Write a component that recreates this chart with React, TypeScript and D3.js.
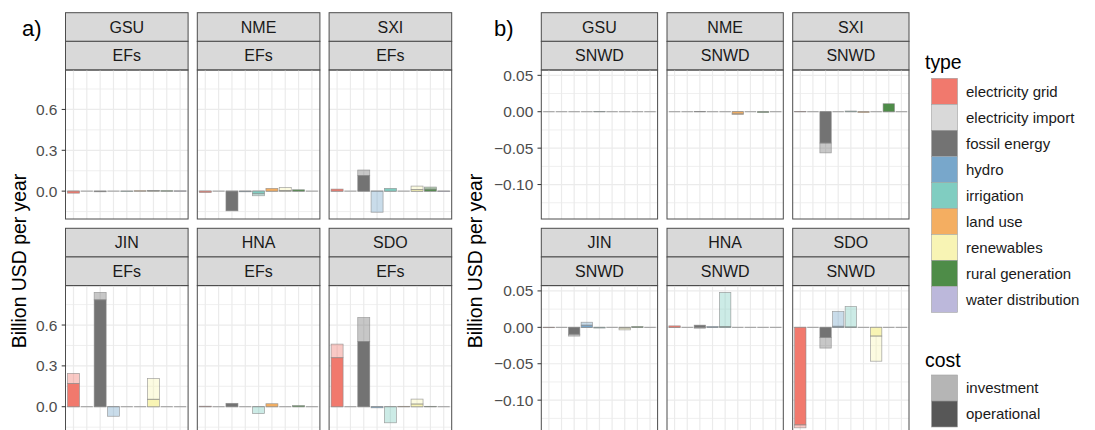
import React, { useEffect, useRef } from 'react';
import * as d3 from 'd3';

// categories and colours
const TYPES = [
  'electricity grid',
  'electricity import',
  'fossil energy',
  'hydro',
  'irrigation',
  'land use',
  'renewables',
  'rural generation',
  'water distribution',
];
const TYPE_COLORS = ['#F1796D', '#D9D9D9', '#737373', '#78A7CB', '#80CDC1', '#F4AE61', '#F8F4B4', '#4E8C48', '#BCB8DB'];
const COSTS = ['investment', 'operational'];
const COST_COLORS = ['#B5B5B5', '#575757'];
const REGIONS = ['GSU', 'NME', 'SXI', 'JIN', 'HNA', 'SDO'];

const EFS_TICKS = [0, 0.3, 0.6];
const SNWD_TICKS = [-0.1, -0.05, 0, 0.05];

// a) EFs, values in billion USD per year (one number per type)
const efsOperational: Record<string, number[]> = {
  GSU: [-0.015, 0, -0.005, 0, -0.002, 0.003, 0.003, 0.003, 0.002],
  NME: [-0.01, 0, -0.145, -0.005, -0.02, 0.02, 0.005, 0.01, 0],
  SXI: [0.015, 0, 0.115, 0, 0.02, 0, 0.012, 0.015, -0.003],
  JIN: [0.17, 0, 0.785, 0, 0, 0, 0.055, 0, 0],
  HNA: [0.004, 0, 0.025, 0, 0, 0.022, 0, 0.008, 0],
  SDO: [0.36, 0, 0.48, -0.008, 0, 0.003, 0.02, 0.003, 0],
};
const efsInvestment: Record<string, number[]> = {
  GSU: [0, 0, 0, 0, 0, 0, 0.001, 0, 0],
  NME: [0, 0, 0, 0, -0.014, 0, 0.022, 0, 0],
  SXI: [0, 0, 0.04, -0.155, 0, 0, 0.025, 0.015, 0],
  JIN: [0.075, 0, 0.055, -0.07, 0, 0, 0.152, 0, 0],
  HNA: [0, 0, 0, 0, -0.05, 0, 0, 0, 0],
  SDO: [0.1, 0, 0.175, 0, -0.118, 0, 0.036, 0, 0],
};

// b) SNWD
const snwdOperational: Record<string, number[]> = {
  GSU: [0, 0, 0, 0, 0.0005, 0, 0, 0, 0],
  NME: [0, 0, 0.0005, 0, 0, -0.003, 0, -0.001, 0],
  SXI: [0.0005, 0, -0.043, 0, 0.001, -0.001, 0, 0.011, 0],
  JIN: [-0.0005, 0, -0.0095, 0.003, -0.001, 0, -0.001, 0.001, 0],
  HNA: [0.002, 0, 0.003, 0.001, 0.001, 0, 0, 0, 0],
  SDO: [-0.134, 0, -0.014, 0.0015, 0.0005, 0, -0.012, 0, 0],
};
const snwdInvestment: Record<string, number[]> = {
  GSU: [0, 0, 0, 0, 0, 0, 0, 0, 0],
  NME: [0, 0, 0, 0, 0, -0.001, 0, 0, 0],
  SXI: [0, 0, -0.0135, 0, 0, 0, 0, 0, 0],
  JIN: [0, 0, -0.0025, 0.004, 0, 0, -0.0025, 0, 0],
  HNA: [0, 0, -0.0012, 0, 0.047, 0, 0, 0, 0],
  SDO: [-0.004, 0, -0.0145, 0.0205, 0.028, 0, -0.0345, 0, 0],
};

const FONT = '"Liberation Sans", Arial, sans-serif';

function App() {
  const ref = useRef<SVGSVGElement>(null);

  useEffect(() => {
    const svg = d3.select(ref.current);
    svg.selectAll('*').remove();

    const stripTop = [12.7, 228.3];
    const stripH = 28.65;
    const plotH = 149;

    const color = d3.scaleOrdinal<string, string>().domain(TYPES).range(TYPE_COLORS);

    const drawBlock = (opts: {
      label: string;
      facet: string;
      x0: number;
      w: number;
      gap: number;
      op: Record<string, number[]>;
      inv: Record<string, number[]>;
      ticks: number[];
      fmt: (v: number) => string;
      titleX: number;
      labelX: number;
    }) => {
      // stacked ends -> y domain with 5% expansion like ggplot
      const ends: number[] = [];
      REGIONS.forEach((r) => {
        opts.op[r].forEach((o, i) => {
          const v = opts.inv[r][i];
          ends.push(o, v * o >= 0 ? o + v : v);
        });
      });
      const lo = d3.min(ends)!;
      const hi = d3.max(ends)!;
      const pad = (hi - lo) * 0.05;

      const minor: number[] = [];
      const step = opts.ticks[1] - opts.ticks[0];
      for (let t = opts.ticks[0] - step / 2; t < hi + pad; t += step) {
        if (t > lo - pad) minor.push(t);
      }

      // panel label a) / b)
      svg.append('text')
        .attr('x', opts.labelX).attr('y', 36)
        .attr('font-family', FONT).attr('font-size', 22)
        .text(opts.label);

      // y axis title
      svg.append('text')
        .attr('transform', `translate(${opts.titleX},261) rotate(-90)`)
        .attr('text-anchor', 'middle')
        .attr('font-family', FONT).attr('font-size', 19.4)
        .text('Billion USD per year');

      REGIONS.forEach((region, idx) => {
        const row = Math.floor(idx / 3);
        const col = idx % 3;
        const left = opts.x0 + col * (opts.w + opts.gap);
        const top = stripTop[row] + 2 * stripH;

        const x = d3.scaleBand<string>().domain(TYPES)
          .range([left, left + opts.w]).paddingInner(0.1).paddingOuter(0.15);
        const y = d3.scaleLinear().domain([lo - pad, hi + pad]).range([top + plotH, top]);

        const g = svg.append('g');

        // strips
        [region, opts.facet].forEach((s, k) => {
          const sy = stripTop[row] + k * stripH;
          g.append('rect')
            .attr('x', left).attr('y', sy).attr('width', opts.w).attr('height', stripH)
            .attr('fill', '#D9D9D9').attr('stroke', '#4d4d4d').attr('stroke-width', 1);
          g.append('text')
            .attr('x', left + opts.w / 2).attr('y', sy + stripH / 2)
            .attr('dy', '0.36em').attr('text-anchor', 'middle')
            .attr('font-family', FONT).attr('font-size', 16).attr('fill', '#1A1A1A')
            .text(s);
        });

        // background grid
        const grid = g.append('g');
        grid.selectAll('.minor').data(minor).enter().append('line')
          .attr('x1', left).attr('x2', left + opts.w)
          .attr('y1', (d) => y(d)).attr('y2', (d) => y(d))
          .attr('stroke', '#EBEBEB').attr('stroke-width', 0.8);
        grid.selectAll('.major').data(opts.ticks).enter().append('line')
          .attr('x1', left).attr('x2', left + opts.w)
          .attr('y1', (d) => y(d)).attr('y2', (d) => y(d))
          .attr('stroke', '#EBEBEB').attr('stroke-width', 1.2);
        grid.selectAll('.vert').data(TYPES).enter().append('line')
          .attr('x1', (d) => x(d)! + x.bandwidth() / 2).attr('x2', (d) => x(d)! + x.bandwidth() / 2)
          .attr('y1', top).attr('y2', top + plotH)
          .attr('stroke', '#EBEBEB').attr('stroke-width', 1.2);

        // zero-height outlines of every bar
        g.selectAll('.zero').data(TYPES).enter().append('line')
          .attr('x1', (d) => x(d)!).attr('x2', (d) => x(d)! + x.bandwidth())
          .attr('y1', y(0)).attr('y2', y(0))
          .attr('stroke', '#9a9a9a').attr('stroke-width', 1);

        // stacked bars: operational next to zero, investment outside
        const segs: { type: string; y0: number; y1: number; cost: string }[] = [];
        TYPES.forEach((t, i) => {
          const o = opts.op[region][i];
          const v = opts.inv[region][i];
          if (o !== 0) segs.push({ type: t, y0: 0, y1: o, cost: 'operational' });
          if (v !== 0) {
            const base = v * o >= 0 ? o : 0;
            segs.push({ type: t, y0: base, y1: base + v, cost: 'investment' });
          }
        });
        g.selectAll('.bar').data(segs).enter().append('rect')
          .attr('x', (d) => x(d.type)!)
          .attr('width', x.bandwidth())
          .attr('y', (d) => Math.min(y(d.y0), y(d.y1)))
          .attr('height', (d) => Math.abs(y(d.y0) - y(d.y1)))
          .attr('fill', (d) => color(d.type))
          .attr('fill-opacity', (d) => (d.cost === 'operational' ? 1 : 0.4))
          .attr('stroke', '#8a8a8a').attr('stroke-opacity', 0.8).attr('stroke-width', 0.7);

        // panel border
        g.append('rect')
          .attr('x', left).attr('y', top).attr('width', opts.w).attr('height', plotH)
          .attr('fill', 'none').attr('stroke', '#4d4d4d').attr('stroke-width', 1);

        // y axis on the left column
        if (col === 0) {
          const ax = g.append('g');
          ax.selectAll('line').data(opts.ticks).enter().append('line')
            .attr('x1', left - 3.8).attr('x2', left)
            .attr('y1', (d) => y(d)).attr('y2', (d) => y(d))
            .attr('stroke', '#333').attr('stroke-width', 1);
          ax.selectAll('text').data(opts.ticks).enter().append('text')
            .attr('x', left - 8).attr('y', (d) => y(d)).attr('dy', '0.36em')
            .attr('text-anchor', 'end')
            .attr('font-family', FONT).attr('font-size', 15.5).attr('fill', '#4D4D4D')
            .text((d) => opts.fmt(d));
        }
      });
    };

    drawBlock({
      label: 'a)', facet: 'EFs', x0: 65.5, w: 122.6, gap: 9.2,
      op: efsOperational, inv: efsInvestment, ticks: EFS_TICKS,
      fmt: d3.format('.1f'), titleX: 26, labelX: 22,
    });
    drawBlock({
      label: 'b)', facet: 'SNWD', x0: 541.3, w: 116.3, gap: 9.4,
      op: snwdOperational, inv: snwdInvestment, ticks: SNWD_TICKS,
      fmt: d3.format('.2f'), titleX: 482, labelX: 494,
    });

    // legends
    const lg = svg.append('g').attr('font-family', FONT);
    lg.append('text').attr('x', 925).attr('y', 68.5).attr('font-size', 19.4).text('type');
    const keyTop = 78.3;
    const keyH = 26;
    lg.selectAll('.tkey').data(TYPES).enter().append('rect')
      .attr('x', 931.5).attr('y', (d, i) => keyTop + i * keyH)
      .attr('width', 26).attr('height', keyH)
      .attr('fill', (d) => color(d)).attr('stroke', '#a0a0a0').attr('stroke-width', 0.6);
    lg.selectAll('.tlab').data(TYPES).enter().append('text')
      .attr('x', 966).attr('y', (d, i) => keyTop + i * keyH + keyH / 2).attr('dy', '0.36em')
      .attr('font-size', 15).attr('fill', '#1A1A1A')
      .text((d) => d);

    lg.append('text').attr('x', 925).attr('y', 366.5).attr('font-size', 19.4).text('cost');
    const costTop = 375;
    lg.selectAll('.ckey').data(COSTS).enter().append('rect')
      .attr('x', 931.5).attr('y', (d, i) => costTop + i * keyH)
      .attr('width', 26).attr('height', keyH)
      .attr('fill', (d, i) => COST_COLORS[i]).attr('stroke', '#a0a0a0').attr('stroke-width', 0.6);
    lg.selectAll('.clab').data(COSTS).enter().append('text')
      .attr('x', 966).attr('y', (d, i) => costTop + i * keyH + keyH / 2).attr('dy', '0.36em')
      .attr('font-size', 15).attr('fill', '#1A1A1A')
      .text((d) => d);
  }, []);

  return (
    <svg
      ref={ref}
      width={1095}
      height={430}
      style={{ position: 'absolute', left: 0, top: 0, background: '#fff' }}
    />
  );
}

export default App;
